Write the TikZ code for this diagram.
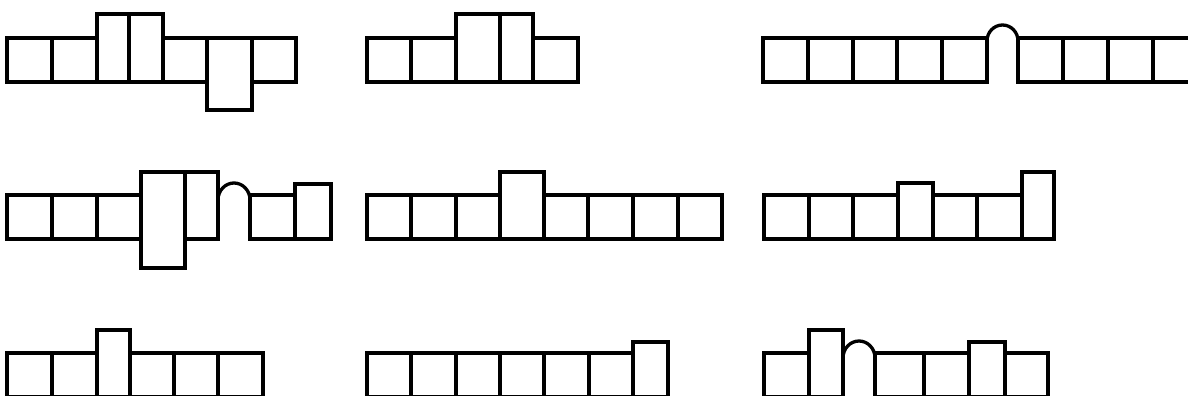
\documentclass[tikz,border=0pt]{standalone}
\begin{document}
\begin{tikzpicture}[x=1pt,y=1pt,
    wall/.style={line width=3.3pt,line join=miter}]
    \useasboundingbox (0,0) rectangle (1188,396);
    \clip (0,0) rectangle (1188,396);
    % Row 1, left strip: two raised, one hanging
    \draw[wall] (7,314) rectangle (52,358) (52,314) rectangle (97,358)
        (97,314) rectangle (129,382) (129,314) rectangle (163,382)
        (163,314) rectangle (207,358) (207,286) rectangle (252,358)
        (252,314) rectangle (296,358);
    % Row 1, middle strip
    \draw[wall] (367,314) rectangle (411,358) (411,314) rectangle (456,358)
        (456,314) rectangle (500,382) (500,314) rectangle (533,382)
        (533,314) rectangle (578,358);
    % Row 1, right strip with an arch
    \draw[wall] (763,314) rectangle (808,358) (808,314) rectangle (853,358)
        (853,314) rectangle (897,358) (897,314) rectangle (942,358)
        (942,314) rectangle (987,358) (1018,314) rectangle (1063,358)
        (1063,314) rectangle (1108,358) (1108,314) rectangle (1153,358)
        (1153,314) rectangle (1198,358);
    \draw[wall] (987,314) -- (987,355) arc (180:0:15.5 and 16) -- (1018,314);
    % Row 2, left strip
    \draw[wall] (7,157) rectangle (52,201) (52,157) rectangle (97,201)
        (97,157) rectangle (141,201) (141,128) rectangle (185,224)
        (185,157) rectangle (218,224) (250,157) rectangle (295,201)
        (295,157) rectangle (331,212);
    \draw[wall] (218,157) -- (218,196) arc (180:0:16 and 17) -- (250,157);
    % Row 2, middle strip
    \draw[wall] (367,157) rectangle (411,201) (411,157) rectangle (456,201)
        (456,157) rectangle (500,201) (500,157) rectangle (544,224)
        (544,157) rectangle (588,201) (588,157) rectangle (633,201)
        (633,157) rectangle (678,201) (678,157) rectangle (722,201);
    % Row 2, right strip
    \draw[wall] (764,157) rectangle (809,201) (809,157) rectangle (853,201)
        (853,157) rectangle (898,201) (898,157) rectangle (933,213)
        (933,157) rectangle (977,201) (977,157) rectangle (1022,201)
        (1022,157) rectangle (1054,224);
    % Row 3, left strip
    \draw[wall] (7,-1) rectangle (52,43) (52,-1) rectangle (97,43)
        (97,-1) rectangle (130,66) (130,-1) rectangle (174,43)
        (174,-1) rectangle (218,43) (218,-1) rectangle (263,43);
    % Row 3, middle strip
    \draw[wall] (367,-1) rectangle (411,43) (411,-1) rectangle (456,43)
        (456,-1) rectangle (500,43) (500,-1) rectangle (544,43)
        (544,-1) rectangle (589,43) (589,-1) rectangle (633,43)
        (633,-1) rectangle (668,54);
    % Row 3, right strip with an arch
    \draw[wall] (764,-1) rectangle (809,43) (809,-1) rectangle (843,66)
        (875,-1) rectangle (924,43) (924,-1) rectangle (969,43)
        (969,-1) rectangle (1005,54) (1005,-1) rectangle (1048,43);
    \draw[wall] (843,-1) -- (843,38) arc (180:0:16 and 17) -- (875,-1);
\end{tikzpicture}
\end{document}
